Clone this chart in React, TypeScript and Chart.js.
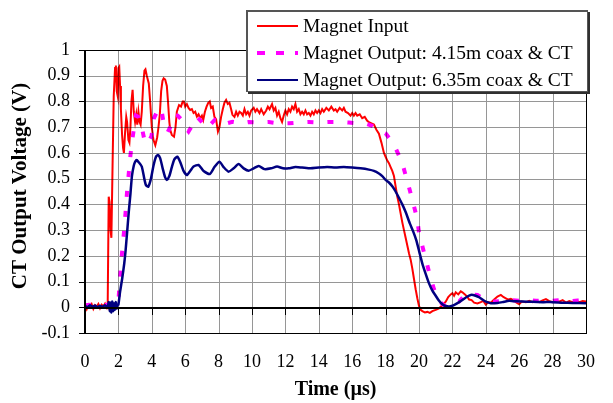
import React, { useEffect, useRef } from "react";
import { Chart, registerables } from "chart.js";

Chart.register(...registerables);

// ---------- data ----------
const inputTime = [
  0, 0.1, 0.2, 0.3, 0.4, 0.5, 0.6, 0.7, 0.8, 0.9, 1.0, 1.1, 1.2, 1.3, 1.36, 1.42, 1.47, 1.53, 1.58, 1.65,
  1.72, 1.8, 1.85, 1.9, 1.96, 2.0, 2.05, 2.1, 2.15, 2.22, 2.28, 2.33, 2.4, 2.47, 2.52, 2.6, 2.66, 2.72, 2.78, 2.85,
  2.92, 3.0, 3.07, 3.13, 3.2, 3.27, 3.33, 3.4, 3.48, 3.56, 3.62, 3.7, 3.82, 3.9, 4.0, 4.1, 4.21, 4.32, 4.4, 4.48,
  4.56, 4.64, 4.71, 4.8, 4.9, 4.97, 5.05, 5.1, 5.2, 5.33, 5.42, 5.5, 5.63, 5.75, 5.85, 5.92, 6.0, 6.1, 6.2, 6.3,
  6.4, 6.5, 6.6, 6.7, 6.8, 6.9, 7.0, 7.08, 7.18, 7.28, 7.38, 7.47, 7.55, 7.65, 7.75, 7.85, 7.96, 8.05, 8.15, 8.25,
  8.35, 8.45, 8.55, 8.65, 8.75, 8.83, 8.95, 9.05, 9.15, 9.25, 9.35, 9.45, 9.55, 9.65, 9.75, 9.85, 9.95, 10.1, 10.2, 10.3,
  10.45, 10.55, 10.7, 10.85, 10.95, 11.05, 11.2, 11.3, 11.4, 11.5, 11.6, 11.7, 11.8, 11.9, 12.0, 12.1, 12.2, 12.3, 12.4, 12.5,
  12.6, 12.7, 12.8, 12.9, 13.0, 13.1, 13.2, 13.3, 13.4, 13.5, 13.6, 13.7, 13.8, 13.9, 14.0, 14.1, 14.2, 14.3, 14.45, 14.6,
  14.75, 14.9, 15.0, 15.1, 15.25, 15.4, 15.5, 15.6, 15.75, 15.9, 16.0, 16.1, 16.2, 16.3, 16.45, 16.6, 16.75, 16.9, 17.0, 17.15,
  17.3, 17.45, 17.6, 17.75, 17.9, 18.0, 18.1, 18.2, 18.3, 18.4, 18.5, 18.6, 18.7, 18.8, 18.9, 19.0, 19.1, 19.2, 19.3, 19.4,
  19.5, 19.6, 19.7, 19.8, 19.9, 20.0, 20.1, 20.2, 20.35, 20.5, 20.65, 20.8, 21.0, 21.2, 21.4, 21.6, 21.75, 21.9, 22.0, 22.1,
  22.2, 22.35, 22.5, 22.6, 22.75, 22.9, 23.0, 23.15, 23.3, 23.5, 23.7, 23.85, 24.0, 24.15, 24.3, 24.5, 24.7, 24.9, 25.05, 25.2,
  25.35, 25.5, 25.65, 25.8, 26.0, 26.15, 26.4, 26.6, 26.8, 27.0, 27.2, 27.4, 27.6, 27.8, 28.0, 28.2, 28.4, 28.6, 28.8, 29.0,
  29.2, 29.4, 29.6, 29.8, 30,
];
const inputVolt = [
  0.005, -0.008, 0.01, 0.0, 0.012, -0.006, 0.008, 0.002, 0.013, -0.004, 0.01, 0.003, 0.014, 0.0, 0.02, 0.43, 0.41, 0.3, 0.27, 0.55,
  0.82, 0.93, 0.94, 0.84, 0.82, 0.93, 0.935, 0.86, 0.77, 0.67, 0.62, 0.6, 0.68, 0.74, 0.72, 0.65, 0.64, 0.7, 0.8, 0.845,
  0.76, 0.72, 0.75, 0.71, 0.76, 0.72, 0.71, 0.76, 0.86, 0.92, 0.925, 0.9, 0.87, 0.8, 0.7, 0.65, 0.63, 0.66, 0.7, 0.75,
  0.84, 0.88, 0.89, 0.885, 0.86, 0.8, 0.72, 0.69, 0.67, 0.663, 0.7, 0.76, 0.786, 0.78, 0.8, 0.8, 0.78, 0.79, 0.775, 0.767,
  0.77, 0.755, 0.76, 0.741, 0.75, 0.735, 0.745, 0.728, 0.76, 0.78, 0.795, 0.8, 0.775, 0.78, 0.74, 0.73, 0.683, 0.7, 0.74, 0.77,
  0.795, 0.806, 0.79, 0.795, 0.77, 0.748, 0.74, 0.76, 0.745, 0.76, 0.755, 0.745, 0.77, 0.75, 0.76, 0.745, 0.765, 0.775, 0.76, 0.77,
  0.755, 0.77, 0.75, 0.765, 0.78, 0.77, 0.79, 0.765, 0.775, 0.745, 0.76, 0.735, 0.72, 0.745, 0.765, 0.75, 0.77, 0.76, 0.78, 0.77,
  0.79, 0.76, 0.77, 0.75, 0.76, 0.75, 0.765, 0.75, 0.755, 0.745, 0.76, 0.75, 0.765, 0.755, 0.765, 0.755, 0.77, 0.76, 0.775, 0.765,
  0.78, 0.765, 0.77, 0.76, 0.775, 0.765, 0.775, 0.76, 0.755, 0.745, 0.755, 0.745, 0.755, 0.745, 0.75, 0.735, 0.74, 0.725, 0.72, 0.715,
  0.71, 0.69, 0.675, 0.64, 0.6, 0.585, 0.57, 0.56, 0.545, 0.53, 0.51, 0.47, 0.43, 0.4, 0.365, 0.33, 0.3, 0.27, 0.24, 0.21,
  0.185, 0.15, 0.11, 0.07, 0.035, 0.005, -0.01, -0.015, -0.02, -0.018, -0.022, -0.015, -0.01, -0.004, 0.008, 0.022, 0.04, 0.05, 0.055, 0.045,
  0.058, 0.05, 0.062, 0.058, 0.05, 0.04, 0.03, 0.028, 0.018, 0.015, 0.02, 0.025, 0.01, 0.02, 0.018, 0.03, 0.042, 0.048, 0.04, 0.035,
  0.03, 0.033, 0.028, 0.02, 0.012, 0.022, 0.02, 0.025, 0.02, 0.025, 0.02, 0.027, 0.032, 0.024, 0.02, 0.026, 0.022, 0.028, 0.018, 0.024,
  0.02, 0.026, 0.02, 0.024, 0.022,
];

const out415Time = [
  0, 0.5, 1.0, 1.5, 1.9, 2.0, 2.05, 2.13, 2.23, 2.33, 2.43, 2.52, 2.62, 2.72, 2.85, 3.05, 3.2, 3.4, 3.59, 3.75,
  3.98, 4.13, 4.35, 4.56, 4.75, 4.95, 5.1, 5.33, 5.55, 5.8, 6.0, 6.2, 6.45, 6.7, 7.0, 7.28, 7.5, 7.77, 8.0, 8.25,
  8.5, 8.83, 9.1, 9.4, 9.8, 10.4, 11.0, 11.6, 12.2, 12.8, 13.4, 14.0, 14.6, 15.2, 15.8, 16.4, 16.9, 17.2, 17.6, 18.0,
  18.3, 18.6, 18.8, 19.0, 19.15, 19.3, 19.45, 19.6, 19.75, 19.9, 20.0, 20.1, 20.25, 20.4, 20.55, 20.7, 20.9, 21.1, 21.35, 21.6,
  21.9, 22.15, 22.4, 22.65, 22.85, 23.1, 23.5, 23.8, 24.1, 24.5, 25.0, 25.5, 26.0, 26.5, 27.0, 27.5, 28.0, 28.5, 29.0, 29.5,
  30,
];
const out415Volt = [
  0.008, 0.01, 0.008, 0.01, 0.012, 0.02, 0.075, 0.145, 0.22, 0.29, 0.37, 0.45, 0.52, 0.59, 0.66, 0.745, 0.74, 0.7, 0.64, 0.635,
  0.665, 0.735, 0.765, 0.775, 0.7, 0.68, 0.7, 0.747, 0.745, 0.728, 0.7, 0.683, 0.71, 0.741, 0.72, 0.696, 0.71, 0.728, 0.72, 0.709,
  0.715, 0.721, 0.718, 0.715, 0.72, 0.718, 0.72, 0.715, 0.715, 0.718, 0.72, 0.718, 0.72, 0.72, 0.718, 0.715, 0.712, 0.705, 0.69, 0.676,
  0.65, 0.618, 0.59, 0.56, 0.525, 0.49, 0.455, 0.417, 0.38, 0.34, 0.29, 0.264, 0.225, 0.19, 0.15, 0.113, 0.07, 0.035, 0.015, 0.003,
  0.008, 0.015, 0.022, 0.04, 0.054, 0.05, 0.048, 0.035, 0.025, 0.022, 0.025, 0.028, 0.025, 0.028, 0.025, 0.027, 0.025, 0.028, 0.024, 0.026,
  0.025,
];

const out635Time = [
  0, 0.15, 0.3, 0.45, 0.6, 0.75, 0.9, 1.05, 1.2, 1.35, 1.42, 1.48, 1.53, 1.58, 1.63, 1.68, 1.73, 1.78, 1.84, 1.9,
  1.95, 2.0, 2.1, 2.23, 2.35, 2.43, 2.52, 2.62, 2.72, 2.81, 2.92, 3.0, 3.1, 3.2, 3.4, 3.55, 3.65, 3.79, 3.95, 4.1,
  4.25, 4.37, 4.5, 4.65, 4.8, 4.9, 5.05, 5.2, 5.35, 5.53, 5.7, 5.9, 6.1, 6.3, 6.5, 6.8, 7.1, 7.47, 7.75, 8.05,
  8.3, 8.6, 8.9, 9.2, 9.5, 9.8, 10.1, 10.4, 10.75, 11.15, 11.5, 11.85, 12.2, 12.6, 13.0, 13.5, 14.0, 14.5, 15.0, 15.5,
  16.0, 16.5, 17.0, 17.3, 17.6, 17.8, 18.0, 18.2, 18.4, 18.6, 18.8, 19.0, 19.2, 19.45, 19.65, 19.84, 20.0, 20.2, 20.4, 20.6,
  20.8, 21.0, 21.2, 21.4, 21.6, 21.8, 22.0, 22.2, 22.4, 22.6, 22.85, 23.1, 23.35, 23.6, 23.8, 24.0, 24.3, 24.7, 25.0, 25.4,
  25.8, 26.2, 26.8, 27.4, 28.0, 28.6, 29.2, 30,
];
const out635Volt = [
  0.005, 0.0, 0.008, 0.002, 0.007, 0.0, 0.006, 0.002, 0.008, 0.0, 0.02, -0.015, 0.018, -0.02, 0.022, -0.015, 0.015, -0.01, 0.02, -0.005,
  0.01, 0.01, 0.06, 0.113, 0.17, 0.22, 0.29, 0.37, 0.44, 0.51, 0.55, 0.565, 0.572, 0.565, 0.547, 0.5, 0.475, 0.469, 0.5, 0.55,
  0.585, 0.592, 0.58, 0.54, 0.505, 0.495, 0.51, 0.545, 0.575, 0.585, 0.565, 0.53, 0.514, 0.53, 0.547, 0.553, 0.53, 0.518, 0.545, 0.566,
  0.545, 0.527, 0.54, 0.557, 0.54, 0.531, 0.54, 0.549, 0.537, 0.54, 0.547, 0.54, 0.54, 0.545, 0.543, 0.54, 0.543, 0.545, 0.543, 0.545,
  0.543, 0.54, 0.535, 0.53, 0.52, 0.51, 0.495, 0.485, 0.47, 0.45, 0.425, 0.4, 0.37, 0.326, 0.295, 0.26, 0.22, 0.17, 0.13, 0.093,
  0.065, 0.045, 0.025, 0.012, 0.005, 0.003, 0.006, 0.012, 0.02, 0.028, 0.04, 0.048, 0.046, 0.039, 0.03, 0.022, 0.016, 0.017, 0.02, 0.025,
  0.023, 0.022, 0.021, 0.02, 0.02, 0.018, 0.017, 0.016,
];

const seriesNames = [
  "Magnet Input",
  "Magnet Output: 4.15m coax & CT",
  "Magnet Output: 6.35m coax & CT",
];
const seriesColors = ["#ff0000", "#ff00ff", "#000080"];

const xMin = 0;
const xMax = 30;
const xStep = 2;
const yMin = -0.1;
const yMax = 1;
const yStep = 0.1;
const xTitle = "Time (µs)";
const yTitle = "CT Output Voltage (V)";

const FONT = '"Liberation Serif", "Times New Roman", "DejaVu Serif", serif';
const GRID = "rgb(150,150,150)";

function toPoints(t: number[], v: number[]) {
  return t.map((x, i) => ({ x, y: v[i] }));
}

function tickValues(min: number, max: number, step: number) {
  const out: number[] = [];
  const n = Math.round((max - min) / step);
  for (let i = 0; i <= n; i++) out.push(Number((min + i * step).toFixed(6)));
  return out;
}

const overlayPlugin = {
  id: "overlay",
  afterDraw(chart: any) {
    const { ctx, chartArea: a, scales } = chart;
    const xs = scales.x;
    const ys = scales.y;
    const xv = tickValues(xMin, xMax, xStep);
    const yv = tickValues(yMin, yMax, yStep);
    const l = Math.round(a.left);
    const r = Math.round(a.right);
    const tp = Math.round(a.top);
    const b = Math.round(a.bottom);

    // gridlines as filled 1px rects, darken blend so the traces stay above them
    ctx.save();
    ctx.globalCompositeOperation = "darken";
    ctx.fillStyle = GRID;
    for (const v of xv) {
      const px = Math.round(xs.getPixelForValue(v));
      ctx.fillRect(px, tp, 1, b - tp);
    }
    for (const v of yv) {
      const py = Math.round(ys.getPixelForValue(v));
      ctx.fillRect(l, py, r - l, 1);
    }
    ctx.restore();

    ctx.save();
    ctx.fillStyle = "#000";
    // y tick marks (outside, left)
    for (const v of yv) {
      const py = Math.round(ys.getPixelForValue(v));
      ctx.fillRect(l - 6, py, 6, 1);
    }
    // zero line with downward tick marks
    const y0 = Math.round(ys.getPixelForValue(0));
    ctx.fillRect(l, y0, r - l, 2);
    for (const v of xv) {
      const px = Math.round(xs.getPixelForValue(v));
      ctx.fillRect(px, y0, 1, 8);
    }
    // plot border
    ctx.fillRect(l - 1, tp, 2, b - tp + 1);
    ctx.fillRect(l, tp, r - l, 1);
    ctx.fillRect(r, tp, 1, b - tp + 1);
    ctx.fillRect(l, b, r - l, 1);

    // axis titles
    ctx.font = `bold 20px ${FONT}`;
    ctx.textAlign = "center";
    ctx.textBaseline = "middle";
    ctx.fillText(xTitle, (a.left + a.right) / 2, 390);
    ctx.save();
    ctx.translate(21, 186);
    ctx.rotate(-Math.PI / 2);
    ctx.font = `bold 21px ${FONT}`;
    ctx.fillText(yTitle, 0, 0);
    ctx.restore();

    // legend box
    const bx = 246, by = 10, bw = 342, bh = 82;
    ctx.fillStyle = "#303030";
    ctx.fillRect(bx + 2, by + 2, bw, bh);
    ctx.fillStyle = "#fff";
    ctx.fillRect(bx, by, bw, bh);
    ctx.fillStyle = "#555";
    ctx.fillRect(bx, by, bw, 2);
    ctx.fillRect(bx, by + bh - 1, bw, 1);
    ctx.fillRect(bx, by, 2, bh);
    ctx.fillRect(bx + bw - 1, by, 1, bh);

    const rows = [26, 53, 80];
    ctx.font = `19.5px ${FONT}`;
    ctx.textAlign = "left";
    ctx.textBaseline = "middle";
    for (let i = 0; i < 3; i++) {
      const ry = rows[i];
      ctx.strokeStyle = seriesColors[i];
      ctx.beginPath();
      if (i === 1) {
        ctx.lineWidth = 4;
        ctx.setLineDash([8, 11]);
      } else {
        ctx.lineWidth = 2;
        ctx.setLineDash([]);
      }
      ctx.moveTo(257, ry);
      ctx.lineTo(298, ry);
      ctx.stroke();
      ctx.setLineDash([]);
      ctx.fillStyle = "#000";
      ctx.fillText(seriesNames[i], 303, ry + 1);
    }
    ctx.restore();
  },
};

export default function App() {
  const canvasRef = useRef<HTMLCanvasElement | null>(null);

  useEffect(() => {
    const canvas = canvasRef.current;
    if (!canvas) return;
    const chart = new Chart(canvas, {
      type: "line",
      data: {
        datasets: [
          {
            label: seriesNames[0],
            data: toPoints(inputTime, inputVolt),
            borderColor: seriesColors[0],
            borderWidth: 2,
            pointRadius: 0,
            tension: 0,
            order: 3,
          },
          {
            label: seriesNames[1],
            data: toPoints(out415Time, out415Volt),
            borderColor: seriesColors[1],
            borderWidth: 4,
            borderDash: [6, 14],
            pointRadius: 0,
            tension: 0,
            order: 2,
          },
          {
            label: seriesNames[2],
            data: toPoints(out635Time, out635Volt),
            borderColor: seriesColors[2],
            borderWidth: 2.5,
            pointRadius: 0,
            tension: 0.2,
            order: 1,
          },
        ],
      },
      options: {
        responsive: false,
        animation: false,
        events: [],
        layout: { padding: { left: 0, top: 50, right: 13, bottom: 0 } },
        plugins: {
          legend: { display: false },
          tooltip: { enabled: false },
          title: { display: false },
        },
        scales: {
          x: {
            type: "linear",
            min: xMin,
            max: xMax,
            border: { display: false },
            grid: { display: false, drawTicks: false },
            ticks: {
              stepSize: xStep,
              autoSkip: false,
              maxRotation: 0,
              padding: 18,
              color: "#000",
              font: { family: FONT, size: 18 },
            },
            afterFit: (s: any) => {
              s.height = 70;
            },
          },
          y: {
            type: "linear",
            min: yMin,
            max: yMax,
            border: { display: false },
            grid: { display: false, drawTicks: true, tickLength: 5 },
            ticks: {
              stepSize: yStep,
              padding: 10,
              color: "#000",
              font: { family: FONT, size: 18 },
              callback: (v: any) => String(Number(Number(v).toFixed(1))),
            },
            afterFit: (s: any) => {
              s.width = 85;
            },
          },
        },
      },
      plugins: [overlayPlugin],
    });
    return () => chart.destroy();
  }, []);

  return (
    <div style={{ position: "absolute", left: 0, top: 0, width: 613, height: 403, background: "#fff" }}>
      <canvas ref={canvasRef} width={613} height={403} style={{ display: "block" }} />
    </div>
  );
}
